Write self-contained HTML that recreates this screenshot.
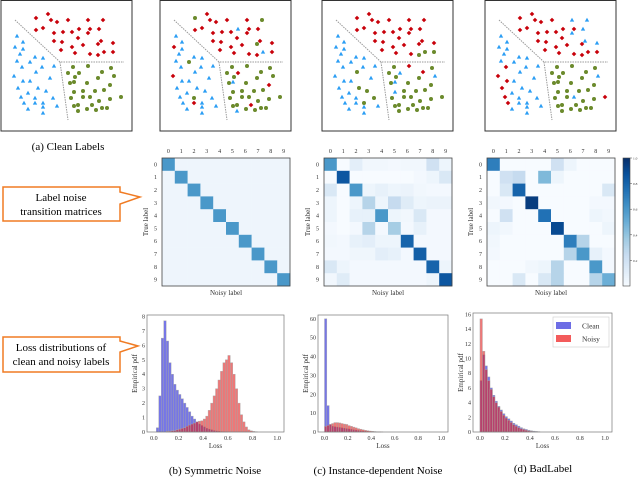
<!DOCTYPE html>
<html><head><meta charset="utf-8"><style>
body{margin:0;background:#fff;width:640px;height:481px;overflow:hidden}
svg{display:block;font-family:"Liberation Serif",serif}
</style></head><body>
<svg id="fig" width="640" height="481" viewBox="0 0 640 481">
<g id="scat"></g><g id="mats"></g><g id="hists"></g>
<g>
<path d="M3,187 H120 V192 L140,197 L120,204 V221 H3 Z" fill="#fff" stroke="#f07b23" stroke-width="1.5"/>
<text x="61" y="201" font-size="11" text-anchor="middle">Label noise</text>
<text x="61" y="215" font-size="11" text-anchor="middle">transition matrices</text>
</g>
<g>
<path d="M3,337 H120 V341 L138,346 L120,352 V372 H3 Z" fill="#fff" stroke="#f07b23" stroke-width="1.5"/>
<text x="61" y="351" font-size="11" text-anchor="middle">Loss distributions of</text>
<text x="61" y="365" font-size="11" text-anchor="middle">clean and noisy labels</text>
</g>
<text x="68" y="150" font-size="11" text-anchor="middle">(a) Clean Labels</text>
<text x="215" y="474" font-size="11" text-anchor="middle">(b) Symmetric Noise</text>
<text x="378" y="474" font-size="11" text-anchor="middle">(c) Instance-dependent Noise</text>
<text x="543" y="472" font-size="11" text-anchor="middle">(d) BadLabel</text>
</svg>
<script>
const NS="http://www.w3.org/2000/svg";
function mk(t,a,p){const e=document.createElementNS(NS,t);for(const k in a)e.setAttribute(k,a[k]);p.appendChild(e);return e;}
// ---- scatter data ----
const redPts=[[35,18],[47,14],[50,20],[56,22],[67,20],[87,20],[102,20],[35,30],[42,28],[53,33],[62,32],[71,32],[78,29],[89,29],[87,33],[98,29],[53,41],[77,38],[61,42],[82,45],[97,44],[100,41],[112,43],[60,50],[71,47],[74,53],[89,54],[97,55],[103,52],[112,52]];
const bluePts=[[16,36],[22,42],[14,47],[22,49],[19,54],[34,57],[42,58],[16,61],[29,62],[21,67],[41,67],[53,66],[35,72],[13,76],[22,81],[29,81],[49,78],[17,88],[27,93],[37,88],[45,91],[20,97],[34,98],[52,98],[23,103],[34,103],[42,103],[56,106],[27,109],[42,107],[42,113]];
const greenPts=[[72,67],[87,66],[110,68],[67,73],[78,73],[74,77],[101,72],[113,76],[69,83],[73,82],[86,83],[97,78],[109,85],[73,92],[82,91],[94,91],[103,90],[120,97],[70,98],[82,97],[89,97],[98,101],[109,99],[73,106],[77,105],[91,105],[101,108],[86,109],[77,111],[95,110],[106,108]];
const scatterOffsets=[1,160,322,485];
// flips: [class, index, newClass]
const flipsB=[["r",0,"g"],["r",6,"g"],["r",12,"b"],["r",20,"g"],["b",2,"r"],["b",8,"g"],["b",13,"r"],["b",22,"g"],["b",25,"r"],["g",4,"r"],["g",9,"b"],["g",12,"r"],["g",25,"r"],["g",28,"b"],["r",28,"b"]];
const flipsC=[["g",0,"g"],["r",29,"g"],["r",28,"g"],["r",27,"g"],["b",12,"g"],["b",19,"g"],["b",20,"g"],["b",23,"g"],["g",1,"r"],["g",6,"r"],["g",7,"b"],["g",4,"b"],["g",9,"b"],["b",26,"g"],["g",13,"b"]];
const flipsD=[["r",5,"b"],["r",6,"b"],["r",14,"b"],["r",15,"b"],["r",21,"b"],["r",22,"b"],["b",9,"r"],["b",13,"r"],["b",17,"r"],["b",14,"r"],["b",21,"r"],["b",24,"r"],["g",17,"r"],["g",7,"b"],["g",20,"b"]];
const panelFlips=[[],flipsB,flipsC,flipsD];
const sg=document.getElementById('scat');
const COL={r:"#c8000a",b:"#2a9df4",g:"#6b8a2c"};
panelFlips.forEach((fl,pi)=>{
  const ox=scatterOffsets[pi];
  const g=mk('g',{transform:`translate(${ox},0)`},sg);
  
  
  mk('rect',{x:0,y:0.5,width:131,height:130.5,fill:'#fff',stroke:'#333','stroke-width':1},g);
  mk('path',{d:"M14,20 L59,62 L123,62 M59,62 L67,120",fill:'none',stroke:'#999','stroke-width':1,'stroke-dasharray':'1.5,1'},g);
  const sets={r:redPts,b:bluePts,g:greenPts};
  for(const c of ["r","b","g"]){
    sets[c].forEach((p,i)=>{
      let cls=c; fl.forEach(f=>{if(f[0]===c&&f[1]===i)cls=f[2];});
      let e;
      if(cls==="b") e=mk('path',{d:`M${p[0]},${p[1]-2.3} L${p[0]+2.2},${p[1]+1.6} L${p[0]-2.2},${p[1]+1.6}Z`,fill:COL.b},g);
      else if(cls==="r") e=mk('path',{d:`M${p[0]},${p[1]-2.3} L${p[0]+2.3},${p[1]} L${p[0]},${p[1]+2.3} L${p[0]-2.3},${p[1]}Z`,fill:COL.r},g);
      else e=mk('circle',{cx:p[0],cy:p[1],r:2,fill:COL.g},g);
      
      
    });
  }
});
// ---- matrices ----
const classLabels=["0","1","2","3","4","5","6","7","8","9"];
const matB=[];for(let i=0;i<10;i++){const r=[];for(let j=0;j<10;j++)r.push(i===j?0.6:0.045);matB.push(r);}
const matC=[[.6,0,.1,.03,.03,.02,.03,.03,.2,.05],[0,.85,0,0,0,0,0,.02,.05,.15],[.15,0,.6,.05,.08,.05,.06,.03,.02,.02],[.05,0,.05,.3,.05,.25,.12,.05,.06,.06],[.05,0,.08,.08,.6,.05,.03,.15,.02,.02],[.02,0,.02,.3,.02,.35,.02,.08,.02,.02],[.03,.02,.08,.1,.05,.05,.8,.02,.02,.02],[.02,.02,.04,.04,.1,.08,.02,.82,.02,.02],[.15,.05,.02,.02,.02,.02,.02,.02,.8,.05],[.03,.12,.02,.02,.02,.02,.02,.02,.05,.85]];
const matD=[[.7,0,0,0,0,.2,.05,0,0,0],[0,.2,.25,0,.45,.05,0,0,0,0],[0,.15,.8,0,0,0,0,0,0,.15],[.03,.02,0,.95,0,0,0,0,.02,.02],[0,.2,0,0,.75,0,0,0,.05,.03],[.05,.03,0,0,0,.9,0,0,0,.05],[.03,0,0,0,0,0,.7,.3,0,0],[.02,0,0,0,0,0,.3,.6,.08,.02],[0,0,0,.03,.05,.3,0,0,.6,.02],[0,0,.15,0,.15,.3,0,0,.3,.5]];
const colorbarTicks=[0.2,0.4,0.6,0.8,1.0];
const blues=["#f7fbff","#deebf7","#c6dbef","#9ecae1","#6baed6","#4292c6","#2171b5","#08519c","#08306b"];
function hx(h){return [1,3,5].map(i=>parseInt(h.substr(i,2),16));}
function cmap(v){v=Math.max(0,Math.min(1,v))*8;const i=Math.min(7,Math.floor(v)),f=v-i;const a=hx(blues[i]),b=hx(blues[i+1]);return `rgb(${a.map((x,k)=>Math.round(x+(b[k]-x)*f)).join(',')})`;}
const mg=document.getElementById('mats');
const matrices=[matB,matC,matD],matX=[162,324,487],matY=158,matS=128;
matrices.forEach((M,mi)=>{
  const g=mk('g',{},mg);
  
  
  const x0=matX[mi],cs=matS/10;
  M.forEach((row,i)=>row.forEach((v,j)=>{
    const c=mk('rect',{x:x0+j*cs,y:matY+i*cs,width:cs+0.3,height:cs+0.3,fill:cmap(v)},g);
    
    
  }));
  mk('rect',{x:x0,y:matY,width:matS,height:matS,fill:'none',stroke:'#444','stroke-width':0.8},g);
  classLabels.forEach((l,k)=>{
    const t=mk('text',{x:x0+(k+.5)*cs,y:matY-5,'font-size':6,'text-anchor':'middle',fill:'#333'},g);t.textContent=l;
    const t2=mk('text',{x:x0-5,y:matY+(k+.5)*cs+2,'font-size':6,'text-anchor':'end',fill:'#333'},g);t2.textContent=l;
  });
  const yl=mk('text',{x:0,y:0,'font-size':7,'text-anchor':'middle',fill:'#333',transform:`translate(${x0-14},${matY+matS/2}) rotate(-90)`},g);yl.textContent="True label";
  
  const xl=mk('text',{x:x0+matS/2,y:matY+matS+9,'font-size':7,'text-anchor':'middle',fill:'#333'},g);xl.textContent="Noisy label";
  
});
// colorbar
const cb=mk('g',{},mg);


const cbX=623,cbW=7,cbTop=158,cbH=128;
for(let k=0;k<64;k++){mk('rect',{x:cbX,y:cbTop+cbH-(k+1)*cbH/64,width:cbW,height:cbH/64+0.3,fill:cmap((k+.5)/64)},cb);}
mk('rect',{x:cbX,y:cbTop,width:cbW,height:cbH,fill:'none',stroke:'#444','stroke-width':0.6},cb);
colorbarTicks.forEach(t=>{const yy=cbTop+cbH*(1-t);mk('line',{x1:cbX+cbW,x2:cbX+cbW+2,y1:yy,y2:yy,stroke:'#444','stroke-width':0.5},cb);const tx=mk('text',{x:cbX+cbW+3,y:yy+1.5,'font-size':3.5,fill:'#333'},cb);tx.textContent=t.toFixed(1);});
// ---- histograms (bin width 0.02, starting at 0) ----
const binWidth=0.02;
const cleanB=[0,0.3,2.5,6.5,7.7,6.3,4.8,4.0,3.3,2.9,2.6,2.3,2.0,1.7,1.4,1.1,0.9,0.7,0.55,0.45,0.35,0.25,0.2,0.15,0.1,0.07,0.05,0.03,0.02,0.01];
const noisyB=[0,0,0,0,0,0.05,0.06,0.08,0.1,0.15,0.2,0.25,0.3,0.4,0.48,0.55,0.62,0.7,0.75,0.78,0.9,1.1,1.5,2.0,2.5,3.0,3.6,4.2,4.8,5.0,5.3,4.8,4.0,3.0,2.0,1.2,0.7,0.35,0.15,0.08,0.04,0.02];
const cleanC=[60,14,4,3,2.8,2.6,2.4,2.2,2.0,1.8,1.6,1.4,1.2,1.0,0.8,0.6,0.5,0.4,0.3,0.2,0.15,0.1,0.06,0.03];
const noisyC=[3,3.5,4,4.5,5,5,4.8,4.5,4.2,4.0,3.4,3.0,2.6,2.2,1.8,1.5,1.2,0.9,0.7,0.5,0.35,0.25,0.15,0.1,0.05];
const cleanD=[7,10.5,9,7.5,6,5,4.2,3.5,3,2.5,2.1,1.8,1.5,1.2,1.0,0.8,0.6,0.45,0.35,0.25,0.18,0.12,0.08,0.05];
const noisyD=[15.4,11,8.5,7,5.8,4.8,4,3.4,2.8,2.3,1.9,1.6,1.3,1.0,0.8,0.6,0.45,0.35,0.25,0.15,0.1,0.06,0.03];
const xTicks=[0,0.2,0.4,0.6,0.8,1.0];
const yTicksB=[0,1,2,3,4,5,6,7,8];
const yTicksC=[0,10,20,30,40,50,60];
const yTicksD=[0,2,4,6,8,10,12,14,16];
const hists=[
 {id:'b',x:147,y:315,w:137,h:117,ymax:8.1,yt:yTicksB,clean:cleanB,noisy:noisyB},
 {id:'c',x:318,y:315,w:130,h:117,ymax:62,yt:yTicksC,clean:cleanC,noisy:noisyC},
 {id:'d',x:473,y:313,w:139,h:119,ymax:16.2,yt:yTicksD,clean:cleanD,noisy:noisyD,legend:true}];
const hg=document.getElementById('hists');
hists.forEach(H=>{
  const g=mk('g',{},hg);
  
  
  const xs=v=>H.x+H.w*(0.05+v*0.9/1.0)/1.0, ys=v=>H.y+H.h-H.h*v/H.ymax;
  const drawBars=(arr,fill,nm)=>arr.forEach((v,i)=>{if(v<=0)return;
    const b=mk('rect',{x:xs(i*binWidth),y:ys(v),width:xs(binWidth)-xs(0),height:ys(0)-ys(v),fill:fill,stroke:'#aaa','stroke-width':0.4},g);
    
    });
  drawBars(H.clean,'rgba(60,60,220,0.7)','clean-bar');
  drawBars(H.noisy,'rgba(225,30,30,0.6)','noisy-bar');
  mk('rect',{x:H.x,y:H.y,width:H.w,height:H.h,fill:'none',stroke:'#777','stroke-width':0.7},g);
  xTicks.forEach(t=>{const tx=mk('text',{x:xs(t),y:H.y+H.h+8,'font-size':6,'text-anchor':'middle',fill:'#333'},g);tx.textContent=t.toFixed(1);});
  H.yt.forEach(t=>{const tx=mk('text',{x:H.x-2,y:ys(t)+2,'font-size':6,'text-anchor':'end',fill:'#333'},g);tx.textContent=t;});
  const xl=mk('text',{x:H.x+H.w/2,y:H.y+H.h+16,'font-size':7,'text-anchor':'middle',fill:'#333'},g);xl.textContent="Loss";
  
  const yl=mk('text',{x:0,y:0,'font-size':7,'text-anchor':'middle',fill:'#333',transform:`translate(${H.x-10},${H.y+H.h/2}) rotate(-90)`},g);yl.textContent="Empirical pdf";
  
  if(H.legend){
    const L=mk('g',{},g);
    
    
    mk('rect',{x:553,y:317,width:56,height:30,fill:'#fff',stroke:'#ccc','stroke-width':0.6},L);
    mk('rect',{x:556,y:322,width:15,height:7,fill:'rgba(60,60,220,0.75)'},L);
    mk('rect',{x:556,y:335,width:15,height:7,fill:'rgba(240,50,50,0.8)'},L);
    const a=mk('text',{x:582,y:328.5,'font-size':7.5,fill:'#333'},L);a.textContent="Clean";
    const b=mk('text',{x:582,y:341.5,'font-size':7.5,fill:'#333'},L);b.textContent="Noisy";
  }
});
</script>
</body></html>
